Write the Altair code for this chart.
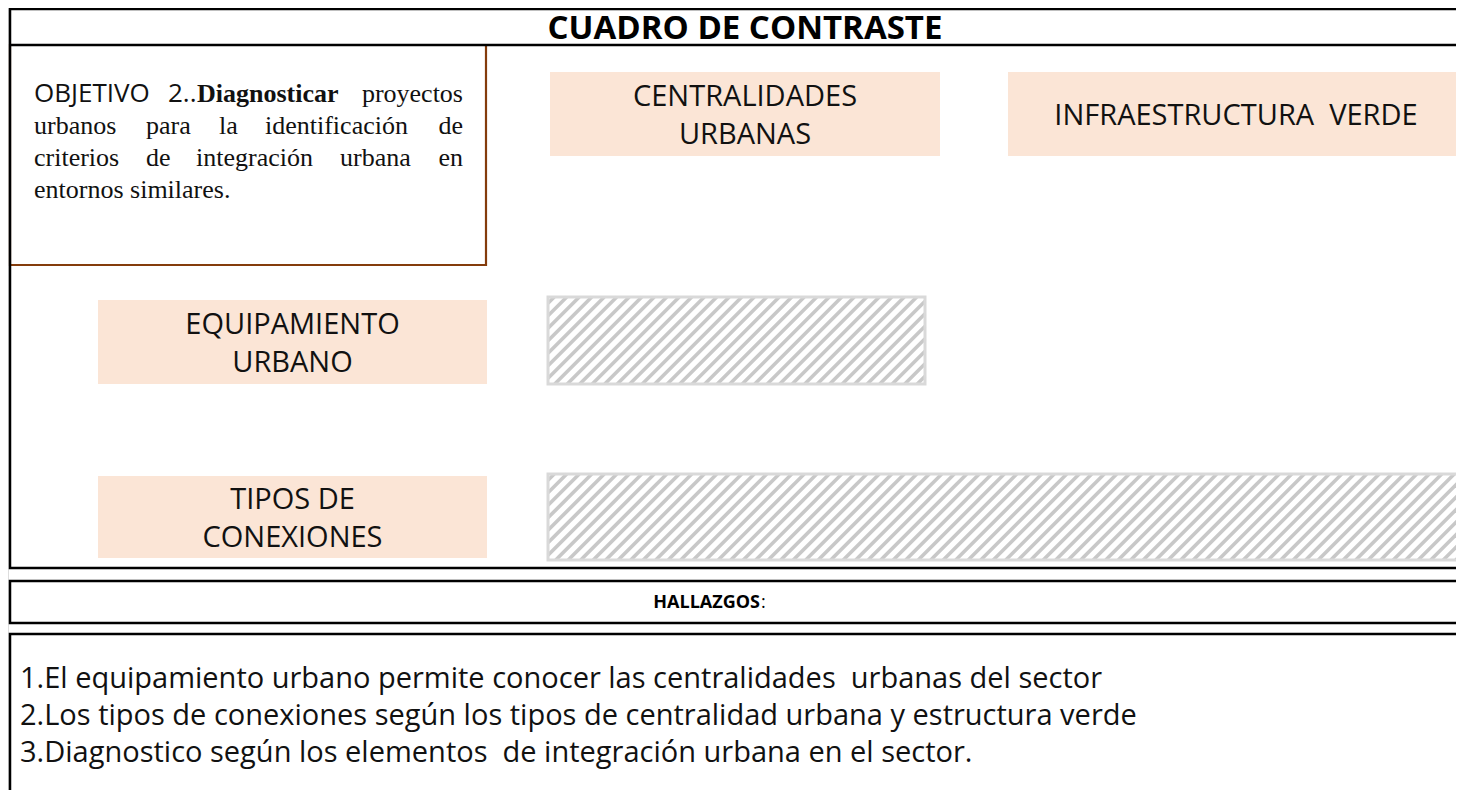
import altair as alt
import pandas as pd

# ---------------- content ----------------
TITLE = "CUADRO DE CONTRASTE"
COLUMN_HEADERS = [["CENTRALIDADES", "URBANAS"], ["INFRAESTRUCTURA  VERDE"]]
ROW_HEADERS = [["EQUIPAMIENTO", "URBANO"], ["TIPOS DE", "CONEXIONES"]]
OBJECTIVE_WORDS = [
    ["OBJETIVO", "2..", "Diagnosticar", "proyectos"],
    ["urbanos", "para", "la", "identificación", "de"],
    ["criterios", "de", "integración", "urbana", "en"],
    ["entornos similares."],
]
OBJECTIVE_STYLE = [
    ["sans", "sans", "bold", "serif"],
    ["serif"] * 5,
    ["serif"] * 5,
    ["serif"],
]
FINDINGS_TITLE = "HALLAZGOS"
FINDINGS = [
    "1.El equipamiento urbano permite conocer las centralidades  urbanas del sector",
    "2.Los tipos de conexiones según los tipos de centralidad urbana y estructura verde",
    "3.Diagnostico según los elementos  de integración urbana en el sector.",
]

# ---------------- layout (page pixel coordinates) ----------------
FRAME_X0 = [10, 10, 10]
FRAME_X1 = [1490, 1490, 1490]
FRAME_Y0 = [9, 581, 634]
FRAME_Y1 = [568, 623, 840]
TITLE_RULE_Y = 45
OBJ_BOX = (10, 486, 45, 265)
COL_BOX_X0 = [550, 1008]
COL_BOX_X1 = [940, 1490]
COL_BOX_Y = (72, 156)
ROW_BOX_X = (98, 487)
ROW_BOX_Y0 = [300, 476]
ROW_BOX_Y1 = [384, 558]
HATCH_X0 = [548, 548]
HATCH_X1 = [925, 1490]
HATCH_Y0 = [297, 474]
HATCH_Y1 = [384, 560]
OBJ_WORD_X = [
    [34, 168, 197, 463],
    [34, 146, 219, 265, 463],
    [34, 146, 196, 340, 463],
    [34],
]
OBJ_LINE_Y = [102, 134, 166, 198]
FIND_Y = [679, 716, 753]
LABEL_LINE_GAP = 38
LABEL_SHIFT = 2

X_SCALE = alt.Scale(domain=[8, 1456], nice=False, zero=False)
Y_SCALE = alt.Scale(domain=[8, 790], nice=False, zero=False, reverse=True)
W, H = 1448, 782


def X(f):
    return alt.X(f, type="quantitative", scale=X_SCALE, axis=None)


def Y(f):
    return alt.Y(f, type="quantitative", scale=Y_SCALE, axis=None)


def keep_spaces(s):
    return s.replace("  ", " \u00a0")


# ---- frames ----
frames = pd.DataFrame({"x": FRAME_X0, "x2": FRAME_X1, "y": FRAME_Y0, "y2": FRAME_Y1})
title_rule = pd.DataFrame({"x": [FRAME_X0[0]], "x2": [FRAME_X1[0]], "y": [TITLE_RULE_Y]})
obj = pd.DataFrame({"x": [OBJ_BOX[0]], "x2": [OBJ_BOX[1]], "y": [OBJ_BOX[2]], "y2": [OBJ_BOX[3]]})

peach = pd.DataFrame({
    "x": COL_BOX_X0 + [ROW_BOX_X[0]] * 2,
    "x2": COL_BOX_X1 + [ROW_BOX_X[1]] * 2,
    "y": [COL_BOX_Y[0]] * 2 + ROW_BOX_Y0,
    "y2": [COL_BOX_Y[1]] * 2 + ROW_BOX_Y1,
})
labels = COLUMN_HEADERS + ROW_HEADERS
lab_rows = []
for i, lines in enumerate(labels):
    cx = (peach["x"][i] + min(peach["x2"][i], 1464)) / 2
    cy = (peach["y"][i] + peach["y2"][i]) / 2 + LABEL_SHIFT
    n = len(lines)
    for j, t in enumerate(lines):
        lab_rows.append({"t": keep_spaces(t), "x": cx, "y": cy + (j - (n - 1) / 2) * LABEL_LINE_GAP})
lab_df = pd.DataFrame(lab_rows)

hatch = pd.DataFrame({"x": HATCH_X0, "x2": HATCH_X1, "y": HATCH_Y0, "y2": HATCH_Y1})

# diagonal stripes, clipped to each hatch box (decoration)
STEP = 12.5
stripes = []
for x0, x1, y0, y1 in zip(HATCH_X0, HATCH_X1, HATCH_Y0, HATCH_Y1):
    c = x0 + y0 + STEP / 2
    while c < x1 + y1:
        ys = min(y1, c - x0)
        ye = max(y0, c - x1)
        stripes.append({"x": c - ys, "y": ys, "x2": c - ye, "y2": ye})
        c += STEP
stripes = pd.DataFrame(stripes)

frame_layer = alt.Chart(frames).mark_rect(fillOpacity=0, stroke="#000000", strokeWidth=2.5).encode(
    x=X("x"), x2="x2", y=Y("y"), y2="y2")
title_rule_layer = alt.Chart(title_rule).mark_rule(color="#000000", strokeWidth=2.5).encode(
    x=X("x"), x2="x2", y=Y("y"))
obj_layer = alt.Chart(obj).mark_rect(fillOpacity=0, stroke="#843C0C", strokeWidth=2.2).encode(
    x=X("x"), x2="x2", y=Y("y"), y2="y2")
peach_layer = alt.Chart(peach).mark_rect(color="#FBE5D6").encode(
    x=X("x"), x2="x2", y=Y("y"), y2="y2")
peach_text = alt.Chart(lab_df).mark_text(
    font="Open Sans", fontSize=29, color="#111111", align="center", baseline="middle"
).encode(x=X("x"), y=Y("y"), text="t:N")
stripe_layer = alt.Chart(stripes).mark_rule(color="#C8C8C8", strokeWidth=3.6).encode(
    x=X("x"), x2="x2", y=Y("y"), y2="y2")
hatch_layer = alt.Chart(hatch).mark_rect(fillOpacity=0, stroke="#D9D9D9", strokeWidth=3).encode(
    x=X("x"), x2="x2", y=Y("y"), y2="y2")

title_df = pd.DataFrame({"t": [TITLE], "x": [745], "y": [39]})
title_layer = alt.Chart(title_df).mark_text(
    font="Open Sans", fontSize=33, fontWeight="bold", color="#000000", align="center",
    baseline="alphabetic").encode(x=X("x"), y=Y("y"), text="t:N")

# objective words
rows = []
for li, (words, styles, xs) in enumerate(zip(OBJECTIVE_WORDS, OBJECTIVE_STYLE, OBJ_WORD_X)):
    n = len(words)
    for wi, (w, s, x) in enumerate(zip(words, styles, xs)):
        anchor = "right" if (n > 1 and wi == n - 1) else "left"
        rows.append({"w": w, "style": s, "x": x, "y": OBJ_LINE_Y[li], "anchor": anchor})
obj_words = pd.DataFrame(rows)


def word_layer(style, anchor, font, weight, size):
    d = obj_words[(obj_words["style"] == style) & (obj_words["anchor"] == anchor)]
    return alt.Chart(d).mark_text(
        font=font, fontWeight=weight, fontSize=size, color="#111111", align=anchor,
        baseline="alphabetic").encode(x=X("x"), y=Y("y"), text="w:N")


word_layers = [
    word_layer("sans", "left", "Open Sans", "normal", 26),
    word_layer("bold", "left", "Liberation Serif", "bold", 26),
    word_layer("serif", "left", "Liberation Serif", "normal", 26),
    word_layer("serif", "right", "Liberation Serif", "normal", 26),
]

hall = pd.DataFrame({"t": [FINDINGS_TITLE], "x": [760], "y": [603]})
hall_layer = alt.Chart(hall).mark_text(
    font="Open Sans", fontSize=18, fontWeight="bold", color="#000000", align="right", baseline="middle"
).encode(x=X("x"), y=Y("y"), text="t:N")
colon = pd.DataFrame({"t": [":"], "x": [761], "y": [603]})
colon_layer = alt.Chart(colon).mark_text(
    font="Open Sans", fontSize=18, color="#000000", align="left", baseline="middle"
).encode(x=X("x"), y=Y("y"), text="t:N")

find = pd.DataFrame({"t": [keep_spaces(s) for s in FINDINGS], "x": [20] * 3, "y": FIND_Y})
find_layer = alt.Chart(find).mark_text(
    font="Open Sans", fontSize=29, color="#111111", align="left", baseline="middle"
).encode(x=X("x"), y=Y("y"), text="t:N")

chart = alt.layer(
    peach_layer, stripe_layer, hatch_layer, obj_layer, frame_layer, title_rule_layer,
    peach_text, title_layer, *word_layers, hall_layer, colon_layer, find_layer,
).properties(width=W, height=H, padding=0, autosize=alt.AutoSizeParams(type="none")).configure_view(
    stroke=None).configure(background="#ffffff")

chart.save("out.html", embed_options={"renderer": "svg", "actions": False})
